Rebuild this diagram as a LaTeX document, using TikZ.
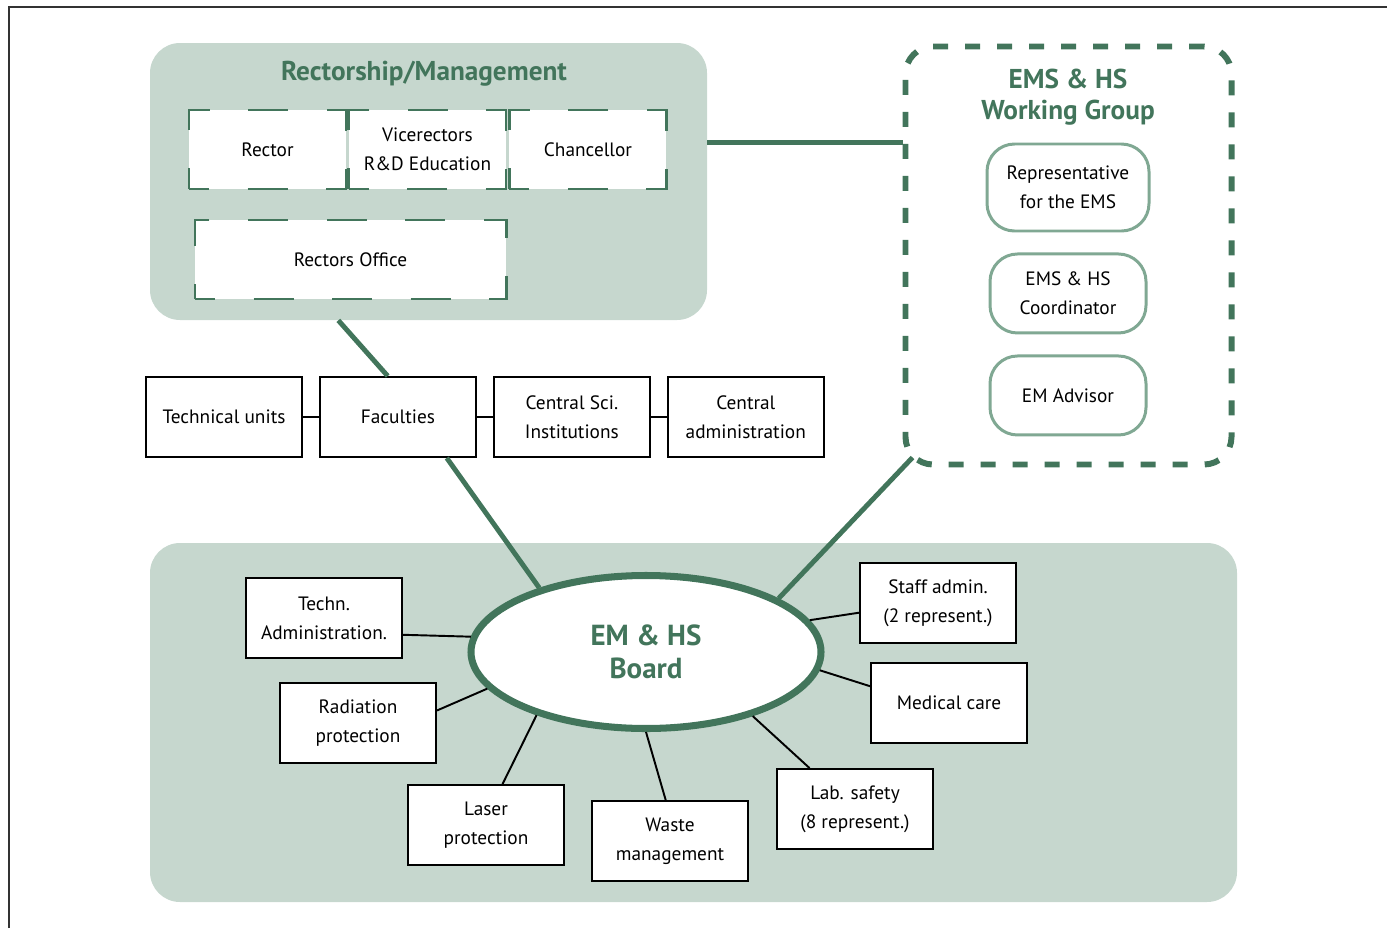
\documentclass[tikz,border=0pt]{standalone}
\usepackage{fontspec}
\setmainfont{PT Sans}
\usetikzlibrary{positioning, shapes.geometric}

\definecolor{emsgreen}{HTML}{42755B}
\definecolor{panelgreen}{HTML}{C6D7CE}
\definecolor{softgreen}{HTML}{80A893}

\begin{document}
\begin{tikzpicture}[
    font=\fontsize{11}{16.4}\selectfont,
    panel/.style={rectangle, fill=panelgreen, rounded corners=0.6cm, inner sep=0pt},
    heading/.style={font=\fontsize{15.5}{17.5}\selectfont\bfseries, text=emsgreen, align=center},
    officebox/.style={rectangle, draw=emsgreen, line width=1.7pt, fill=white,
                      dash pattern=on 0.8cm off 0.77cm, dash phase=0.4cm,
                      minimum width=3.14cm, minimum height=1.58cm, align=center, inner sep=0pt},
    unitbox/.style={rectangle, draw=black, line width=1.1pt, fill=white,
                    minimum width=3.12cm, minimum height=1.6cm, align=center, inner sep=0pt},
    memberbox/.style={rectangle, draw=softgreen, line width=1.7pt, fill=white,
                      rounded corners=0.55cm, minimum width=3.12cm, minimum height=1.58cm,
                      align=center, inner sep=0pt},
    greenlink/.style={emsgreen, line width=2.8pt},
    link/.style={black, line width=1.1pt}
]
\useasboundingbox (0,0) rectangle (27.74,-18.56);

% Rahmen
\draw[black!80, line width=0.6pt] (0.18,-18.56) -- (0.18,-0.14) -- (27.74,-0.14);

% Rectorship
\node[panel, minimum width=11.14cm, minimum height=5.54cm] (rectorship) at (8.57,-3.63) {};
\node[heading] (rectorshiptitle) at (8.48,-1.48) {Rectorship/Management};
\node[officebox] (rector) at (5.35,-2.99) {Rector};
\node[officebox, right=0cm of rector] (vicerectors) {Vicerectors\\R\&D Education};
\node[officebox, right=0.01cm of vicerectors] (chancellor) {Chancellor};
\node[officebox, minimum width=6.22cm] (rectorsoffice) at (7.01,-5.19) {Rectors Office};

% Working group
\node[rectangle, draw=emsgreen, line width=3.4pt, dash pattern=on 0.3cm off 0.34cm,
      rounded corners=0.55cm, minimum width=6.52cm, minimum height=8.36cm] (wg) at (21.37,-5.11) {};
\node[heading] (wgtitle) at (21.36,-1.95) {EMS \& HS\\Working Group};
\node[memberbox, minimum width=3.24cm, minimum height=1.74cm] (representative) at (21.36,-3.75)
     {Representative\\for the EMS};
\node[memberbox, below=0.4cm of representative] (coordinator) {EMS \& HS\\Coordinator};
\node[memberbox, below=0.4cm of coordinator] (advisor) {EM Advisor};
\coordinate (wgcorner) at ([shift={(0.2cm,0.2cm)}]wg.south west);

% Units
\node[unitbox] (technical) at (4.48,-8.34) {Technical units};
\node[unitbox, right=0.32cm of technical] (faculties) {Faculties};
\node[unitbox, right=0.32cm of faculties] (centralsci) {Central Sci.\\Institutions};
\node[unitbox, right=0.32cm of centralsci] (centraladmin) {Central\\administration};

% Board
\node[panel, minimum width=21.74cm, minimum height=7.18cm] (boardpanel) at (13.87,-14.45) {};
\node[ellipse, draw=emsgreen, line width=4pt, fill=white, minimum width=7.0cm,
      minimum height=3.06cm, inner sep=0pt, align=center, text=emsgreen,
      font=\fontsize{16.5}{18.5}\selectfont\bfseries] (board) at (12.92,-13.04) {EM \& HS\\Board};
\node[unitbox] (techadmin) at (6.48,-12.36) {Techn.\\Administration.};
\node[unitbox] (radiation) at (7.16,-14.46) {Radiation\\protection};
\node[unitbox] (laser) at (9.72,-16.5) {Laser\\protection};
\node[unitbox] (waste) at (13.4,-16.82) {Waste\\management};
\node[unitbox] (labsafety) at (17.1,-16.18) {Lab. safety\\(8 represent.)};
\node[unitbox] (medical) at (18.98,-14.06) {Medical care};
\node[unitbox] (staff) at (18.76,-12.06) {Staff admin.\\(2 represent.)};

% Verbindungen
\draw[greenlink] (rectorship.8) -- (rectorship.8 -| wg.west);
\draw[greenlink] (rectorship.237) -- (faculties.104);
\draw[greenlink] (faculties.320) -- (board.149);
\draw[greenlink] (board.22) -- (wgcorner);

\draw[link] (technical) -- (faculties);
\draw[link] (faculties) -- (centralsci);
\draw[link] (centralsci) -- (centraladmin);

\draw[link] (techadmin.348) -- (board.175);
\draw[link] (radiation.9) -- (board.193);
\draw[link] (laser.68) -- (board.210);
\draw[link] (waste.96) -- (board.270);
\draw[link] (labsafety.138) -- (board.329);
\draw[link] (medical.168) -- (board.354);
\draw[link] (staff.187) -- (board.11);

\end{tikzpicture}
\end{document}
